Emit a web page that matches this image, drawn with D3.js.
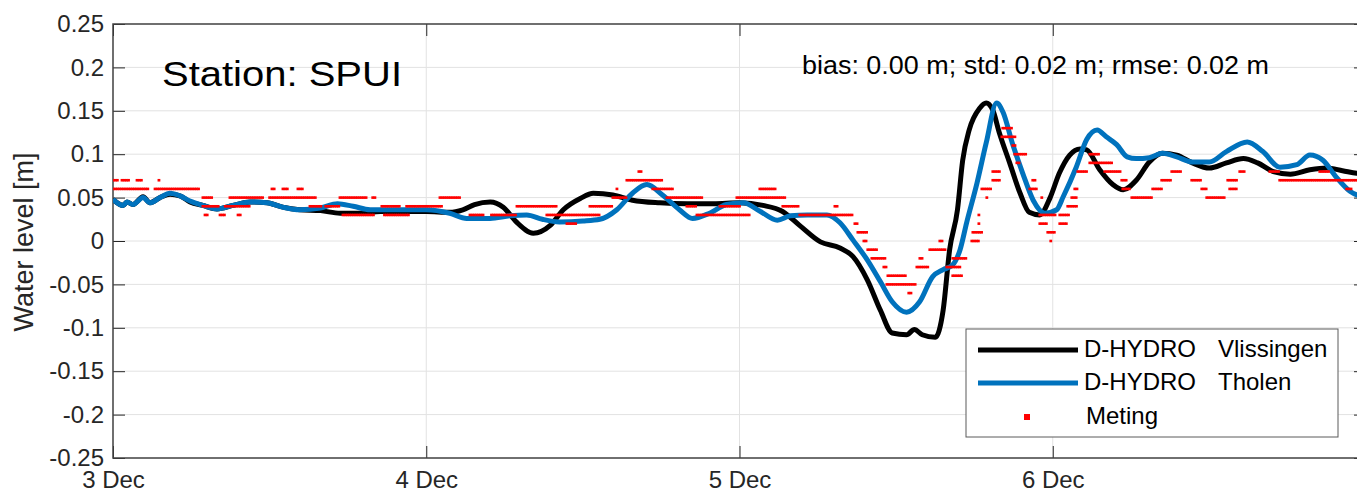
<!DOCTYPE html>
<html>
<head>
<meta charset="utf-8">
<script src="https://cdn.jsdelivr.net/npm/d3@7"></script>
<style>
  body { margin: 0; background: #fff; }
  svg { display: block; font-family: "Liberation Sans", Arial, sans-serif; }
</style>
</head>
<body>
<div id="chart"></div>
<script>
// times are hours since 3 Dec 00:00, levels in m
const vlisHours = [0, 0.77, 1.07, 1.53, 2.30, 2.83, 3.60, 4.37, 5.13, 5.90, 6.89, 7.97, 9.19, 10.5, 11.8, 13.0, 14.3, 15.9, 17.4, 18.9,
  20.5, 22.0, 24.0, 25.8, 26.8, 27.7, 28.9, 29.9, 30.9, 32.2, 33.5, 34.5, 35.8, 36.8, 38.3, 39.8, 41.9, 44.0, 46.0, 48.0,
  49.8, 51.3, 52.6, 54.2, 55.7, 56.7, 57.8, 58.8, 59.7, 60.8, 61.4, 62.0, 63.0, 63.6, 64.1, 64.7, 65.1, 65.6, 66.4, 66.9,
  67.4, 67.9, 68.7, 69.5, 70.2, 71.0, 71.8, 72.5, 73.3, 74.1, 74.6, 75.6, 76.6, 77.4, 78.4, 79.4, 80.4, 81.5, 82.7, 84.0,
  85.3, 86.6, 87.7, 88.9, 90.2, 91.7, 93.0, 94.2, 95.3, 96.0];
const vlisLevel = [0.048, 0.041, 0.045, 0.042, 0.051, 0.044, 0.050, 0.054, 0.052, 0.045, 0.041, 0.037, 0.041, 0.045, 0.044, 0.039, 0.036, 0.035, 0.032, 0.032,
  0.034, 0.034, 0.034, 0.033, 0.036, 0.042, 0.045, 0.039, 0.022, 0.009, 0.018, 0.036, 0.049, 0.055, 0.053, 0.047, 0.044, 0.043, 0.043, 0.044,
  0.041, 0.034, 0.018, -0.001, -0.008, -0.018, -0.045, -0.080, -0.106, -0.108, -0.102, -0.108, -0.111, -0.080, -0.010, 0.036, 0.093, 0.128, 0.153, 0.159,
  0.151, 0.125, 0.090, 0.055, 0.033, 0.030, 0.050, 0.078, 0.099, 0.106, 0.105, 0.082, 0.065, 0.059, 0.070, 0.091, 0.101, 0.099, 0.090, 0.084,
  0.090, 0.095, 0.090, 0.080, 0.077, 0.082, 0.084, 0.081, 0.078, 0.077];

const tholenHours = [0, 0.77, 1.07, 1.53, 2.30, 2.83, 3.60, 4.37, 5.13, 5.90, 6.89, 7.97, 9.19, 10.5, 11.8, 13.0, 14.3, 15.9, 17.2, 18.4,
  19.7, 22.0, 24.0, 25.8, 27.1, 28.9, 30.4, 31.7, 32.9, 34.2, 36.0, 37.3, 38.6, 39.8, 40.9, 42.1, 43.4, 44.4, 45.7, 47.0,
  48.3, 49.6, 50.9, 51.9, 53.2, 54.7, 55.7, 56.7, 57.8, 58.8, 59.7, 60.8, 61.8, 62.8, 63.6, 64.3, 64.9, 65.4, 66.2, 66.9,
  67.7, 68.2, 68.9, 69.7, 70.5, 71.4, 72.3, 72.8, 73.8, 74.6, 75.4, 76.1, 76.9, 77.7, 78.4, 79.4, 80.4, 81.5, 82.7, 84.0,
  85.3, 86.9, 88.1, 89.4, 90.7, 91.7, 92.7, 93.7, 94.8, 96.0];
const tholenLevel = [0.048, 0.041, 0.045, 0.042, 0.050, 0.044, 0.050, 0.055, 0.052, 0.046, 0.041, 0.037, 0.041, 0.045, 0.044, 0.039, 0.036, 0.038, 0.043, 0.040,
  0.036, 0.036, 0.036, 0.032, 0.026, 0.026, 0.029, 0.030, 0.025, 0.022, 0.023, 0.025, 0.036, 0.055, 0.065, 0.053, 0.036, 0.026, 0.032, 0.042,
  0.044, 0.034, 0.024, 0.029, 0.030, 0.030, 0.021, 0.001, -0.022, -0.047, -0.070, -0.082, -0.070, -0.041, -0.033, -0.028, -0.010, 0.021, 0.067, 0.113,
  0.159, 0.148, 0.113, 0.078, 0.047, 0.032, 0.036, 0.051, 0.085, 0.117, 0.128, 0.120, 0.111, 0.097, 0.095, 0.096, 0.101, 0.097, 0.091, 0.091,
  0.103, 0.114, 0.103, 0.085, 0.088, 0.099, 0.093, 0.074, 0.057, 0.050];

// Meting: 10-minute readings in whole cm, stored as runs of equal readings (start hour, end hour, cm)
const metingStart = [
  0, 0.69, 1.84, 3.52, 0, 3.22, 12.18, 13.02, 14.17,
  6.89, 8.96, 12.0, 17.39, 19.9, 25.05, 6.89, 8.6, 15.09, 16.3, 20.6, 22.5,
  7.05, 8.20, 9.58, 17.62, 20.8, 27.35, 29.0,
  38.30, 42.44, 47.80, 30.95, 36.54, 43.97, 46.50, 51.32, 55.31,
  33.24, 44.74, 52.62, 34.78, 56.84, 38.61, 41.36, 49.56, 39.37, 40.29,
  57.07, 57.53, 57.83, 58.14, 59.06, 59.37, 59.29, 60.97, 61.59, 61.82, 62.58, 63.35, 63.88, 64.34, 64.34,
  65.80, 65.88, 66.34, 66.34, 66.57, 66.95, 67.41, 67.41,
  68.17, 68.10, 68.94, 69.09, 69.25,
  70.47, 70.24, 71.16, 71.01, 72.54, 71.01, 72.54, 71.62, 71.85, 73.15, 73.46, 73.69,
  74.84, 74.84, 73.92, 75.99, 81.12, 86.33, 88.63, 92.46,
  77.29, 80.35, 82.65, 85.41, 89.39, 77.37, 79.66, 83.42, 85.56, 94.52, 78.06, 83.80];
const metingEnd = [
  0.38, 1.30, 2.30, 3.68, 2.83, 6.66, 12.41, 13.41, 14.55,
  7.66, 11.5, 15.62, 19.5, 20.22, 26.58, 8.2, 10.49, 16.0, 17.39, 22.0, 25.27,
  7.28, 8.66, 9.88, 20.0, 22.75, 28.5, 30.95,
  39.37, 45.19, 51.63, 34.01, 38.30, 44.74, 48.03, 52.62, 55.54,
  37.30, 48.80, 56.68, 35.54, 57.07, 38.76, 42.90, 50.86, 42.13, 40.52,
  57.83, 57.76, 58.52, 59.14, 59.29, 60.82, 61.59, 61.20, 62.58, 62.12, 63.88, 63.58, 64.88, 65.03, 65.42,
  66.41, 66.57, 66.49, 66.49, 67.33, 67.10, 67.94, 67.94,
  68.86, 69.25, 69.17, 70.01, 69.48,
  70.78, 70.78, 71.31, 72.31, 73.31, 71.54, 73.15, 72.16, 72.00, 73.84, 73.84, 73.92,
  75.60, 76.52, 74.61, 77.29, 81.89, 86.71, 89.39, 93.22,
  77.67, 81.12, 83.42, 86.18, 96.0, 77.90, 80.43, 83.80, 86.10, 94.98, 79.66, 85.18];
const metingCm = [
  7, 7, 7, 7, 6, 6, 6, 6, 6,
  5, 5, 5, 5, 5, 5, 4, 4, 4, 4, 4, 4,
  3, 3, 3, 3, 3, 3, 3,
  5, 5, 5, 4, 4, 4, 4, 4, 4,
  3, 3, 3, 2, 2, 6, 6, 6, 7, 8,
  1, 0, -1, -2, -3, -4, -5, -6, -3, -2, -1, 0, -3, -4, -2,
  0, 1, 2, 3, 6, 5, 7, 8,
  13, 12, 11, 10, 9,
  7, 6, 5, 3, 3, 2, 2, 1, 0, 4, 5, 6,
  10, 9, 8, 8, 8, 8, 8, 8,
  7, 7, 7, 7, 7, 6, 6, 6, 6, 6, 5, 5];

const yTicks = [-0.25, -0.2, -0.15, -0.1, -0.05, 0, 0.05, 0.1, 0.15, 0.2, 0.25];
const dayTicks = [3, 4, 5, 6];
const stationLabel = "Station: SPUI";
const statsLabel = "bias: 0.00 m; std: 0.02 m; rmse: 0.02 m";
const legendNames = ["D-HYDRO", "D-HYDRO", "Meting"];
const legendSites = ["Vlissingen", "Tholen", ""];

const W = 1357, H = 492;
const pL = 113, pR = 1366, pT = 24, pB = 458;
const t0 = new Date(2000, 11, 3);
const toDate = h => new Date(t0.getTime() + h * 3600e3);

const x = d3.scaleTime().domain([t0, toDate(96)]).range([pL, pR]);
const y = d3.scaleLinear().domain([-0.25, 0.25]).range([pB, pT]);

const svg = d3.select('#chart').append('svg').attr('width', W).attr('height', H);

svg.append('defs').append('clipPath').attr('id', 'plot')
  .append('rect').attr('x', pL).attr('y', pT).attr('width', pR - pL).attr('height', pB - pT);

// grid
const grid = svg.append('g').attr('stroke', '#e2e2e2').attr('stroke-width', 1);
grid.selectAll('.hg').data(yTicks.slice(1, -1)).enter().append('line')
  .attr('x1', pL).attr('x2', pR).attr('y1', d => y(d)).attr('y2', d => y(d));
grid.selectAll('.vg').data(dayTicks.slice(1)).enter().append('line')
  .attr('y1', pT).attr('y2', pB)
  .attr('x1', d => x(toDate((d - 3) * 24))).attr('x2', d => x(toDate((d - 3) * 24)));

// axes, ticks pointing inward
const tickDates = dayTicks.map(d => toDate((d - 3) * 24));
function styleAxis(g) {
  g.select('.domain').remove();
  g.selectAll('line').attr('stroke', '#262626');
  g.selectAll('text').attr('fill', '#262626').style('font-size', '24px')
    .style('font-family', '"Liberation Sans", Arial, sans-serif');
}
svg.append('g').attr('transform', `translate(${pL},0)`)
  .call(d3.axisLeft(y).tickValues(yTicks).tickFormat(d => String(+d.toFixed(2))).tickSizeInner(-12).tickSizeOuter(0).tickPadding(9))
  .call(styleAxis);
svg.append('g').attr('transform', `translate(${pR},0)`)
  .call(d3.axisRight(y).tickValues(yTicks).tickFormat('').tickSizeInner(-12).tickSizeOuter(0))
  .call(styleAxis);
svg.append('g').attr('transform', `translate(0,${pB})`)
  .call(d3.axisBottom(x).tickValues(tickDates).tickFormat(d3.timeFormat('%-d %b')).tickSizeInner(-12).tickSizeOuter(0).tickPadding(13))
  .call(styleAxis);
svg.append('g').attr('transform', `translate(0,${pT})`)
  .call(d3.axisTop(x).tickValues(tickDates).tickFormat('').tickSizeInner(-12).tickSizeOuter(0))
  .call(styleAxis);

// box
svg.append('rect').attr('x', pL).attr('y', pT).attr('width', pR - pL).attr('height', pB - pT)
  .attr('fill', 'none').attr('stroke', '#404040').attr('stroke-width', 1.5);

// model lines
const line = d3.line().x(d => x(toDate(d[0]))).y(d => y(d[1])).curve(d3.curveMonotoneX);
const plot = svg.append('g').attr('clip-path', 'url(#plot)');
plot.append('path').datum(vlisHours.map((h, i) => [h, vlisLevel[i]]))
  .attr('d', line).attr('fill', 'none').attr('stroke', '#000').attr('stroke-width', 5).attr('stroke-linejoin', 'round');
plot.append('path').datum(tholenHours.map((h, i) => [h, tholenLevel[i]]))
  .attr('d', line).attr('fill', 'none').attr('stroke', '#0072BD').attr('stroke-width', 5).attr('stroke-linejoin', 'round');

// measurements
const meting = [];
metingStart.forEach((s, i) => {
  for (let t = s; t <= metingEnd[i] + 1e-6; t += 1 / 6) meting.push([t, metingCm[i] / 100]);
});
plot.selectAll('.meting').data(meting).enter().append('rect')
  .attr('x', d => x(toDate(d[0])) - 1.4).attr('y', d => y(d[1]) - 1.3)
  .attr('width', 2.8).attr('height', 2.6).attr('fill', '#ff0000');

// y label
svg.append('text').attr('transform', 'translate(33,242) rotate(-90)')
  .attr('text-anchor', 'middle').style('font-size', '27px').attr('fill', '#262626')
  .text('Water level [m]');

// annotations
svg.append('text').attr('x', 162).attr('y', 86).style('font-size', '35px').attr('fill', '#000')
  .attr('textLength', 240).attr('lengthAdjust', 'spacingAndGlyphs').text(stationLabel);
svg.append('text').attr('x', 802).attr('y', 74).style('font-size', '25px').attr('fill', '#000')
  .attr('textLength', 467).attr('lengthAdjust', 'spacingAndGlyphs').text(statsLabel);

// legend
const lg = svg.append('g');
lg.append('rect').attr('x', 966).attr('y', 329).attr('width', 372).attr('height', 108)
  .attr('fill', '#fff').attr('stroke', '#5a5a5a').attr('stroke-width', 1);
const rowY = [350, 383, 417];
lg.append('line').attr('x1', 978).attr('x2', 1078).attr('y1', rowY[0]).attr('y2', rowY[0]).attr('stroke', '#000').attr('stroke-width', 5);
lg.append('line').attr('x1', 978).attr('x2', 1078).attr('y1', rowY[1]).attr('y2', rowY[1]).attr('stroke', '#0072BD').attr('stroke-width', 5);
lg.append('rect').attr('x', 1024).attr('y', rowY[2] - 3).attr('width', 6).attr('height', 6).attr('fill', '#ff0000');
legendNames.forEach((n, i) => {
  const t = lg.append('text').attr('y', rowY[i] + 7).style('font-size', '24px').attr('fill', '#000');
  t.append('tspan').attr('x', i === 2 ? 1086 : 1084).text(n);
  if (legendSites[i]) t.append('tspan').attr('x', 1218).text(legendSites[i]);
});
</script>
</body>
</html>
